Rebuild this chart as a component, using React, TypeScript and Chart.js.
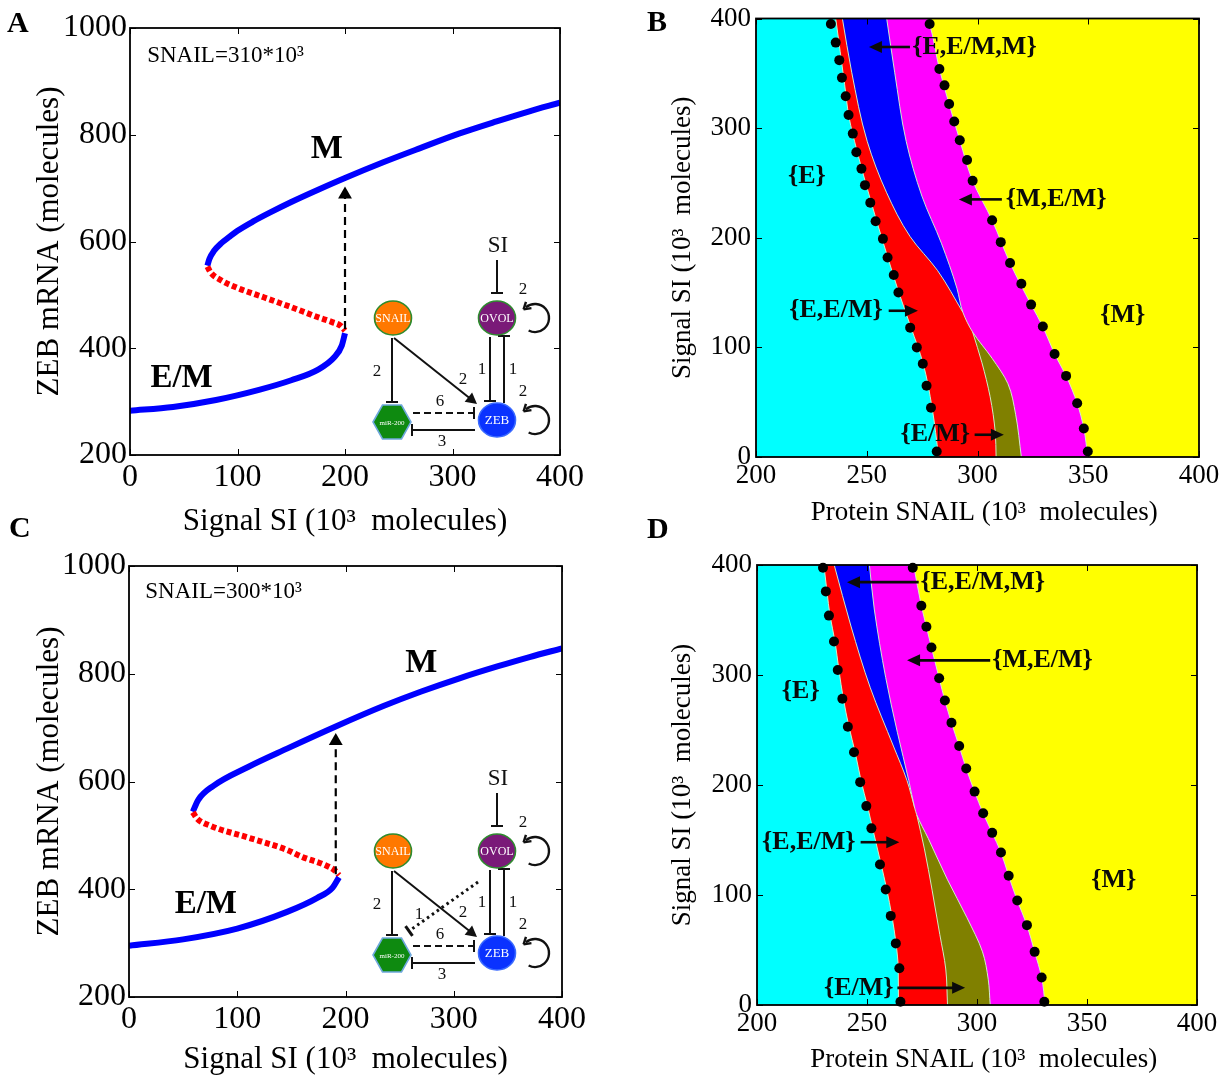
import React, { useEffect, useRef } from 'react';
import { Chart, registerables } from 'chart.js';

Chart.register(...registerables);

const PAGE_W = 1229;
const PAGE_H = 1078;
const SERIF = '"Liberation Serif", "Times New Roman", Times, serif';

// ===== Panel A (SNAIL = 310*10^3): ZEB mRNA vs Signal SI =====
const aLowerSI = [0, 40, 80, 120, 150, 175, 190, 197, 200];
const aLowerZEB = [283, 290, 303, 322, 340, 360, 383, 405, 428];
const aUnstableSI = [72, 75, 85, 100, 125, 150, 175, 188, 196, 200];
const aUnstableZEB = [553, 542, 527, 513, 495, 477, 458, 449, 442, 433];
const aUpperSI = [72, 74, 78, 85, 92, 100, 115, 130, 150, 175, 200, 235, 270, 306, 341, 370, 400];
const aUpperZEB = [555, 568, 582, 597, 608, 620, 638, 654, 674, 697, 719, 748, 775, 802, 825, 843, 860];
const aJumpSI = [200, 200];
const aJumpZEB = [436, 688];

// ===== Panel C (SNAIL = 300*10^3) =====
const cLowerSI = [0, 50, 100, 146, 174, 188, 194];
const cLowerZEB = [295, 307, 327, 358, 384, 403, 422];
const cUnstableSI = [59, 63, 75, 110, 146, 160, 181, 190, 194];
const cUnstableZEB = [543, 531, 518, 496, 473, 460, 445, 435, 426];
const cUpperSI = [59, 64, 78, 110, 146, 192, 235, 270, 306, 341, 370, 400];
const cUpperZEB = [544, 566, 592, 627, 661, 703, 740, 767, 792, 814, 831, 847];
const cJumpSI = [191, 191];
const cJumpZEB = [428, 675];

// ===== Tick labels =====
const bifTicksX = [0, 100, 200, 300, 400];
const bifTicksY = [200, 400, 600, 800, 1000];
const phaseTicksX = [200, 250, 300, 350, 400];
const phaseTicksY = [0, 100, 200, 300, 400];

// ===== Panel B phase boundaries (SNAIL x, SI y) =====
const bL1Y = [400, 370, 340, 310, 280, 250, 215, 182, 150, 118, 85, 45, 0];
const bL1X = [236, 238, 240, 242, 245.5, 249.5, 254.5, 259.5, 264.5, 270, 275.5, 279.5, 282.5];
const bL2Y = [400, 351, 288, 241, 201, 170, 132];
const bL2X = [239, 243.2, 250.2, 259, 269.6, 282, 293.4];
const bOlLY = [114, 86, 55, 23, 0];
const bOlLX = [297.8, 302, 305.7, 308, 308.4];
const bMagY = [400, 351, 288, 238, 195, 154, 132, 114, 90, 67, 39, 0];
const bMagX = [259, 262.6, 267.8, 274.9, 283.7, 290.7, 293.4, 297.8, 306.6, 313.7, 317.2, 319.8];
const bL4Y = [400, 395, 354, 322, 289, 252, 216, 177, 139, 119, 94, 74, 49, 26, 0];
const bL4X = [277.5, 278.4, 282.8, 287.2, 292, 297.8, 306.6, 314.7, 324.2, 329.5, 334.8, 340, 345, 348, 349.8];
const bDotsLX = [233.8, 236, 237.6, 238.8, 240.5, 241.8, 243.7, 245.3, 247.6, 249.2, 251.6, 254, 257.3, 259.4, 262.2, 264.3, 269.6, 272.6, 275.3, 277, 279, 281.6];
const bDotsLY = [395, 378, 362, 346, 329, 312, 295, 278, 263, 248, 232, 215, 199, 182, 166, 150, 118, 100, 85, 65, 45, 5];
const bDotsRX = [278.4, 282.8, 285.1, 287.2, 289.5, 292, 295.3, 297.8, 306.6, 310.5, 314.7, 319.8, 324.2, 329.5, 334.8, 340, 345, 348, 349.8];
const bDotsRY = [395, 354, 339, 322, 306, 289, 271, 252, 216, 196, 177, 158, 139, 119, 94, 74, 49, 26, 5];

// ===== Panel D phase boundaries =====
const dL1Y = [400, 376, 354, 330, 305, 278, 253, 230, 203, 181, 161, 128, 105, 81, 56, 33, 0];
const dL1X = [230.4, 231.8, 233.2, 235.5, 237.2, 239.3, 241.8, 244.6, 247.4, 250.2, 252.5, 256.4, 259, 261.3, 263.2, 264.2, 264.3];
const dL2Y = [400, 344.5, 288.4, 235.4, 204, 179];
const dL2X = [235.1, 242.7, 251.5, 262, 268.2, 271.7];
const dOlLY = [173, 141.9, 104.4, 64, 32.7, 0];
const dOlLX = [272.6, 276.1, 279.6, 283.1, 285.8, 286.6];
const dMagY = [400, 360, 297.7, 247.9, 204, 179, 173, 151.2, 113.8, 79.5, 48.3, 23.4, 0];
const dMagX = [251.1, 253.3, 258.5, 263.8, 269, 271.7, 272.6, 277.9, 286.6, 295.4, 302.5, 305.1, 306];
const dL4Y = [400, 363, 343.9, 325, 297, 276.8, 256.6, 235.4, 215, 194, 174.3, 156.5, 138.7, 117.5, 95, 72.6, 48.3, 25, 0];
const dL4X = [271.2, 274.7, 277, 279.3, 282.8, 285.4, 288.4, 291.9, 295.1, 298.9, 302.8, 306.9, 310.9, 314.4, 318.3, 322.7, 326.2, 329.4, 331];
const dDotsLX = [230, 231.3, 232.7, 235, 236.7, 238.8, 241.3, 244.1, 246.9, 249.7, 252, 255.9, 258.5, 260.8, 263.1, 264.7, 265.2];
const dDotsLY = [397.5, 376, 354, 330.5, 304.6, 278.4, 253, 229.8, 202.6, 180.8, 160.6, 127.8, 105, 81, 56, 33.4, 3];
const dDotsRX = [270.8, 274.7, 277, 279.3, 282.8, 285.4, 288.4, 291.9, 295.1, 298.9, 302.8, 306.9, 310.9, 314.4, 318.3, 322.7, 326.2, 329.4, 330.6];
const dDotsRY = [397.5, 363, 343.9, 325, 297, 276.8, 256.6, 235.4, 215, 194, 174.3, 156.5, 138.7, 117.5, 95, 72.6, 48.3, 25, 3];

// ===== Annotations =====
const aNotes = [
  { text: 'SNAIL=310*10³', x: 16, y: 948, size: 23, bold: false, align: 'left' },
  { text: 'M', x: 183, y: 773, size: 34, bold: true, align: 'center' },
  { text: 'E/M', x: 48, y: 344, size: 33, bold: true, align: 'center' },
];
const cNotes = [
  { text: 'SNAIL=300*10³', x: 15, y: 952, size: 23, bold: false, align: 'left' },
  { text: 'M', x: 270, y: 820, size: 34, bold: true, align: 'center' },
  { text: 'E/M', x: 71, y: 371, size: 33, bold: true, align: 'center' },
];
const bLabels = [
  { text: '{E,E/M,M}', x: 270.5, y: 374, align: 'left', arrow: [269.5, 251] },
  { text: '{E}', x: 223, y: 256, align: 'center', arrow: null },
  { text: '{M,E/M}', x: 312.8, y: 235, align: 'left', arrow: [311, 291.6] },
  { text: '{E,E/M}', x: 215, y: 133.4, align: 'left', arrow: [259.9, 273.1] },
  { text: '{M}', x: 365.6, y: 129.4, align: 'center', arrow: null },
  { text: '{E/M}', x: 265.2, y: 20.3, align: 'left', arrow: [298.7, 311.9] },
];
const dLabels = [
  { text: '{E,E/M,M}', x: 274.3, y: 384.4, align: 'left', arrow: [273.5, 240.9] },
  { text: '{M,E/M}', x: 306.9, y: 313.3, align: 'left', arrow: [306, 268.2] },
  { text: '{E}', x: 219.9, y: 285.3, align: 'center', arrow: null },
  { text: '{E,E/M}', x: 202.3, y: 148, align: 'left', arrow: [247.1, 264.7] },
  { text: '{M}', x: 362.2, y: 113.8, align: 'center', arrow: null },
  { text: '{E/M}', x: 230.4, y: 15.6, align: 'left', arrow: [263.8, 294.6] },
];

const pts = (xs: number[], ys: number[]) => xs.map((x, i) => ({ x, y: ys[i] }));

type Rect = { l: number; t: number; r: number; b: number };
const PLOT_A: Rect = { l: 130, t: 28, r: 560, b: 455 };
const PLOT_B: Rect = { l: 756, t: 14, r: 1199, b: 457 };
const PLOT_C: Rect = { l: 129, t: 566, r: 562, b: 997 };
const PLOT_D: Rect = { l: 757, t: 565, r: 1197, b: 1005 };

function layoutFor(p: Rect, wy: number, hx: number) {
  return {
    padding: { left: p.l - wy, top: p.t, right: PAGE_W - p.r, bottom: PAGE_H - p.b - hx },
  };
}

function axis(o: {
  min: number; max: number; ticks: number[]; tickSize: number; tickPad: number;
  title: string; titleSize: number; fit: number; horizontal: boolean;
}) {
  return {
    type: 'linear',
    min: o.min,
    max: o.max,
    afterBuildTicks: (s: any) => { s.ticks = o.ticks.map((v) => ({ value: v })); },
    ticks: {
      font: { family: SERIF, size: o.tickSize, lineHeight: 1 },
      color: '#000',
      padding: o.tickPad,
      maxRotation: 0,
      autoSkip: false,
      callback: (v: any) => String(v),
    },
    grid: { display: false, drawTicks: false },
    border: { display: false },
    title: { display: true, text: o.title, font: { family: SERIF, size: o.titleSize }, color: '#000', padding: 0 },
    afterFit: (s: any) => { if (o.horizontal) s.height = o.fit; else s.width = o.fit; },
  };
}

const framePlugin = {
  id: 'frameTicks',
  afterDraw(chart: any) {
    const { ctx, chartArea: a, scales } = chart;
    ctx.save();
    ctx.strokeStyle = '#000';
    ctx.lineWidth = 1;
    const tl = 6;
    scales.x.ticks.forEach((t: any) => {
      const p = Math.round(scales.x.getPixelForValue(t.value)) + 0.5;
      ctx.beginPath();
      ctx.moveTo(p, a.bottom); ctx.lineTo(p, a.bottom - tl);
      ctx.moveTo(p, a.top); ctx.lineTo(p, a.top + tl);
      ctx.stroke();
    });
    scales.y.ticks.forEach((t: any) => {
      const p = Math.round(scales.y.getPixelForValue(t.value)) + 0.5;
      ctx.beginPath();
      ctx.moveTo(a.left, p); ctx.lineTo(a.left + tl, p);
      ctx.moveTo(a.right, p); ctx.lineTo(a.right - tl, p);
      ctx.stroke();
    });
    ctx.lineWidth = 1.8;
    ctx.strokeRect(a.left, a.top, a.right - a.left, a.bottom - a.top);
    ctx.restore();
  },
};

function notesPlugin(notes: typeof aNotes) {
  return {
    id: 'notes',
    afterDatasetsDraw(chart: any) {
      const { ctx, scales } = chart;
      ctx.save();
      ctx.fillStyle = '#000';
      ctx.textBaseline = 'middle';
      notes.forEach((n) => {
        ctx.font = `${n.bold ? 'bold ' : ''}${n.size}px ${SERIF}`;
        ctx.textAlign = n.align as CanvasTextAlign;
        ctx.fillText(n.text, scales.x.getPixelForValue(n.x), scales.y.getPixelForValue(n.y));
      });
      ctx.restore();
    },
  };
}

function drawArrow(ctx: CanvasRenderingContext2D, x1: number, y1: number, x2: number, y2: number, head: number, half: number, lw: number, dash: number[] = []) {
  const ang = Math.atan2(y2 - y1, x2 - x1);
  const c = Math.cos(ang), s = Math.sin(ang);
  const bx = x2 - c * head, by = y2 - s * head;
  ctx.save();
  ctx.lineWidth = lw;
  ctx.setLineDash(dash);
  ctx.beginPath(); ctx.moveTo(x1, y1); ctx.lineTo(bx + c * 1, by + s * 1); ctx.stroke();
  ctx.setLineDash([]);
  ctx.beginPath();
  ctx.moveTo(x2, y2);
  ctx.lineTo(bx - s * half, by + c * half);
  ctx.lineTo(bx + s * half, by - c * half);
  ctx.closePath();
  ctx.fill();
  ctx.restore();
}

function drawInhibit(ctx: CanvasRenderingContext2D, x1: number, y1: number, x2: number, y2: number, bar: number, dash: number[] = []) {
  const ang = Math.atan2(y2 - y1, x2 - x1);
  const px = -Math.sin(ang) * bar, py = Math.cos(ang) * bar;
  ctx.save();
  ctx.setLineDash(dash);
  ctx.beginPath(); ctx.moveTo(x1, y1); ctx.lineTo(x2, y2); ctx.stroke();
  ctx.setLineDash([]);
  ctx.beginPath(); ctx.moveTo(x2 + px, y2 + py); ctx.lineTo(x2 - px, y2 - py); ctx.stroke();
  ctx.restore();
}

function drawLoop(ctx: CanvasRenderingContext2D, cx: number, cy: number, r: number) {
  const a0 = (-131 * Math.PI) / 180;
  const a1 = (117 * Math.PI) / 180;
  ctx.save();
  ctx.lineWidth = 2.4;
  ctx.beginPath(); ctx.arc(cx, cy, r, a0, a1, false); ctx.stroke();
  const sx = cx + r * Math.cos(a0), sy = cy + r * Math.sin(a0);
  const dx = Math.sin(a0), dy = -Math.cos(a0);
  const tx = sx + dx * 3, ty = sy + dy * 3;
  const hl = 8;
  [0.55, -0.55].forEach((rot) => {
    const rx = dx * Math.cos(rot) - dy * Math.sin(rot);
    const ry = dx * Math.sin(rot) + dy * Math.cos(rot);
    ctx.beginPath(); ctx.moveTo(tx, ty); ctx.lineTo(tx - rx * hl, ty - ry * hl); ctx.stroke();
  });
  ctx.restore();
}

function drawNode(ctx: CanvasRenderingContext2D, x: number, y: number, fill: string, stroke: string, label: string, size: number, hex = false) {
  ctx.save();
  ctx.beginPath();
  if (hex) {
    const rx = 19, ry = 17;
    ctx.moveTo(x - rx, y);
    ctx.lineTo(x - rx / 2, y - ry);
    ctx.lineTo(x + rx / 2, y - ry);
    ctx.lineTo(x + rx, y);
    ctx.lineTo(x + rx / 2, y + ry);
    ctx.lineTo(x - rx / 2, y + ry);
    ctx.closePath();
  } else {
    ctx.ellipse(x, y, 18.5, 17, 0, 0, Math.PI * 2);
  }
  ctx.fillStyle = fill;
  ctx.fill();
  ctx.lineWidth = 1.6;
  ctx.strokeStyle = stroke;
  ctx.stroke();
  ctx.fillStyle = '#fff';
  ctx.font = `${size}px ${SERIF}`;
  ctx.textAlign = 'center';
  ctx.textBaseline = 'middle';
  ctx.fillText(label, x, y + 1);
  ctx.restore();
}

function drawNetwork(ctx: CanvasRenderingContext2D, zx: number, zy: number, dotted: boolean) {
  ctx.save();
  ctx.strokeStyle = '#111';
  ctx.fillStyle = '#111';
  ctx.lineWidth = 2;
  ctx.lineCap = 'butt';
  drawInhibit(ctx, zx, zy - 160, zx, zy - 127, 6); // SI -| OVOL
  drawInhibit(ctx, zx - 105, zy - 82, zx - 105, zy - 18, 6); // SNAIL -| miR-200
  drawArrow(ctx, zx - 103, zy - 82, zx - 20, zy - 16, 11, 6, 2); // SNAIL -> ZEB
  drawInhibit(ctx, zx - 7, zy - 83, zx - 7, zy - 19, 6); // OVOL -| ZEB
  drawInhibit(ctx, zx + 7, zy - 17, zx + 7, zy - 84, 6); // ZEB -| OVOL
  drawInhibit(ctx, zx - 84, zy - 7, zx - 23, zy - 7, 6, [7, 4]); // miR -| ZEB
  drawInhibit(ctx, zx - 22, zy + 10, zx - 85, zy + 10, 6); // ZEB -| miR
  if (dotted) {
    ctx.save();
    ctx.lineWidth = 3;
    drawInhibit(ctx, zx - 19, zy - 71, zx - 88, zy - 22, 6, [2.5, 3.5]);
    ctx.restore();
  }
  drawLoop(ctx, zx + 38, zy - 102, 14);
  drawLoop(ctx, zx + 38, zy, 14);
  drawNode(ctx, zx - 104, zy - 102, '#FF7800', '#2E8B2E', 'SNAIL', 12);
  drawNode(ctx, zx, zy - 102, '#7A1A78', '#2E8B2E', 'OVOL', 12);
  drawNode(ctx, zx, zy, '#0A32FF', '#3A6AFF', 'ZEB', 13);
  drawNode(ctx, zx - 105, zy + 2, '#0E8A10', '#6FA8DC', 'miR-200', 7, true);
  ctx.fillStyle = '#111';
  ctx.textAlign = 'center';
  ctx.textBaseline = 'middle';
  ctx.font = `23px ${SERIF}`;
  ctx.fillText('SI', zx + 1, zy - 174);
  ctx.font = `17px ${SERIF}`;
  ctx.fillText('2', zx + 26, zy - 130);
  ctx.fillText('2', zx + 26, zy - 28);
  ctx.fillText('2', zx - 120, zy - 48);
  ctx.fillText('2', zx - 34, zy - 40);
  ctx.fillText('1', zx - 15, zy - 50);
  ctx.fillText('1', zx + 16, zy - 50);
  ctx.fillText('6', zx - 57, zy - 18);
  ctx.fillText('3', zx - 55, zy + 22);
  if (dotted) ctx.fillText('1', zx - 78, zy - 38);
  ctx.restore();
}

function insetPlugin(offX: number, offY: number, dotted: boolean) {
  return {
    id: 'inset',
    afterDatasetsDraw(chart: any) {
      const a = chart.chartArea;
      drawNetwork(chart.ctx, a.right + offX, a.bottom + offY, dotted);
    },
  };
}

function labelsPlugin(labels: typeof bLabels) {
  return {
    id: 'phaseLabels',
    afterDatasetsDraw(chart: any) {
      const { ctx, scales } = chart;
      ctx.save();
      ctx.fillStyle = '#0a0a0a';
      ctx.strokeStyle = '#0a0a0a';
      ctx.textBaseline = 'middle';
      ctx.font = `bold 26px ${SERIF}`;
      labels.forEach((l) => {
        const py = scales.y.getPixelForValue(l.y);
        ctx.textAlign = l.align as CanvasTextAlign;
        ctx.fillText(l.text, scales.x.getPixelForValue(l.x), py);
        if (l.arrow) {
          drawArrow(ctx, scales.x.getPixelForValue(l.arrow[0]), py, scales.x.getPixelForValue(l.arrow[1]), py, 13, 6, 2.6);
        }
      });
      ctx.restore();
    },
  };
}

const cyanBackground = {
  id: 'cyanBg',
  beforeDatasetsDraw(chart: any) {
    const { ctx, chartArea: a } = chart;
    ctx.save();
    ctx.fillStyle = '#00FFFF';
    ctx.fillRect(a.left, a.top, a.right - a.left, a.bottom - a.top);
    ctx.restore();
  },
};

function bifConfig(p: Rect, hx: number, wy: number, lower: any[], unstable: any[], upper: any[], jump: any[], notes: typeof aNotes, inset: [number, number], dotted: boolean) {
  const curve = { showLine: true, borderWidth: 6, pointRadius: 0, cubicInterpolationMode: 'monotone', clip: 0 };
  return {
    type: 'scatter',
    data: {
      datasets: [
        { data: jump, showLine: true, borderColor: '#000', borderWidth: 2.2, borderDash: [8, 5], pointRadius: [0, 8], pointStyle: 'triangle', pointBackgroundColor: '#000', pointBorderWidth: 0, clip: false },
        { ...curve, data: lower, borderColor: '#0000FF' },
        { ...curve, data: unstable, borderColor: '#FF0000', borderDash: [5, 3] },
        { ...curve, data: upper, borderColor: '#0000FF' },
      ],
    },
    options: {
      responsive: false,
      animation: false,
      devicePixelRatio: 1,
      layout: layoutFor(p, wy, hx),
      plugins: { legend: { display: false }, tooltip: { enabled: false } },
      scales: {
        x: axis({ min: 0, max: 400, ticks: bifTicksX, tickSize: 32, tickPad: 7, title: 'Signal SI (10³  molecules)', titleSize: 31, fit: hx, horizontal: true }),
        y: axis({ min: 200, max: 1000, ticks: bifTicksY, tickSize: 32, tickPad: 3, title: 'ZEB mRNA (molecules)', titleSize: 31, fit: wy, horizontal: false }),
      },
    },
    plugins: [notesPlugin(notes), insetPlugin(inset[0], inset[1], dotted), framePlugin],
  };
}

function phaseConfig(p: Rect, wy: number, hx: number, b: {
  l1: any[]; l2: any[]; olL: any[]; mag: any[]; l4: any[]; dotsL: any[]; dotsR: any[];
}, labels: typeof bLabels) {
  const bnd = (data: any[], color: string) => ({
    data, borderColor: 'rgba(205,245,205,0.95)', borderWidth: 1, pointRadius: 0,
    cubicInterpolationMode: 'monotone',
    fill: { value: 400 }, backgroundColor: color, clip: 0,
  });
  const dots = (data: any[]) => ({
    data, showLine: false, pointRadius: 5, pointBackgroundColor: '#000', pointBorderWidth: 0, fill: false, clip: false,
  });
  return {
    type: 'line',
    data: {
      datasets: [
        dots(b.dotsL),
        dots(b.dotsR),
        bnd(b.l4, '#FFFF00'),
        bnd(b.mag, '#FF00FF'),
        bnd(b.olL, '#808000'),
        bnd(b.l2, '#0000FF'),
        bnd(b.l1, '#FF0000'),
      ],
    },
    options: {
      responsive: false,
      animation: false,
      devicePixelRatio: 1,
      indexAxis: 'y',
      layout: layoutFor(p, wy, hx),
      plugins: { legend: { display: false }, tooltip: { enabled: false } },
      scales: {
        x: axis({ min: 200, max: 400, ticks: phaseTicksX, tickSize: 27, tickPad: 5, title: '  Protein SNAIL (10³  molecules)', titleSize: 27, fit: hx, horizontal: true }),
        y: axis({ min: 0, max: 400, ticks: phaseTicksY, tickSize: 27, tickPad: 5, title: 'Signal SI (10³  molecules)', titleSize: 27, fit: wy, horizontal: false }),
      },
    },
    plugins: [cyanBackground, labelsPlugin(labels), framePlugin],
  };
}

const makeA = () => bifConfig(PLOT_A, 85, 98.6, pts(aLowerSI, aLowerZEB), pts(aUnstableSI, aUnstableZEB), pts(aUpperSI, aUpperZEB), pts(aJumpSI, aJumpZEB), aNotes, [-63, -35], false);
const makeC = () => bifConfig(PLOT_C, 81, 97.6, pts(cLowerSI, cLowerZEB), pts(cUnstableSI, cUnstableZEB), pts(cUpperSI, cUpperZEB), pts(cJumpSI, cJumpZEB), cNotes, [-65, -44], true);
const makeB = () => phaseConfig(PLOT_B, 89.2, 72.2, {
  l1: pts(bL1X, bL1Y), l2: pts(bL2X, bL2Y), olL: pts(bOlLX, bOlLY), mag: pts(bMagX, bMagY), l4: pts(bL4X, bL4Y),
  dotsL: pts(bDotsLX, bDotsLY), dotsR: pts(bDotsRX, bDotsRY),
}, bLabels);
const makeD = () => phaseConfig(PLOT_D, 90.2, 71.2, {
  l1: pts(dL1X, dL1Y), l2: pts(dL2X, dL2Y), olL: pts(dOlLX, dOlLY), mag: pts(dMagX, dMagY), l4: pts(dL4X, dL4Y),
  dotsL: pts(dDotsLX, dDotsLY), dotsR: pts(dDotsRX, dDotsRY),
}, dLabels);

function ChartCanvas({ make }: { make: () => any }) {
  const ref = useRef<HTMLCanvasElement>(null);
  useEffect(() => {
    const chart = new Chart(ref.current as HTMLCanvasElement, make());
    return () => chart.destroy();
  }, []);
  return (
    <canvas
      ref={ref}
      width={PAGE_W}
      height={PAGE_H}
      style={{ position: 'absolute', left: 0, top: 0, width: PAGE_W, height: PAGE_H }}
    />
  );
}

const letterStyle = (left: number, top: number): React.CSSProperties => ({
  position: 'absolute', left, top, font: `bold 30px ${SERIF}`, lineHeight: 1, color: '#000',
});

export default function App() {
  return (
    <div style={{ position: 'absolute', left: 0, top: 0, width: PAGE_W, height: PAGE_H, background: '#fff', overflow: 'hidden' }}>
      <ChartCanvas make={makeA} />
      <ChartCanvas make={makeB} />
      <ChartCanvas make={makeC} />
      <ChartCanvas make={makeD} />
      <div style={letterStyle(7, 7)}>A</div>
      <div style={letterStyle(647, 6)}>B</div>
      <div style={letterStyle(9, 512)}>C</div>
      <div style={letterStyle(647, 513)}>D</div>
    </div>
  );
}
